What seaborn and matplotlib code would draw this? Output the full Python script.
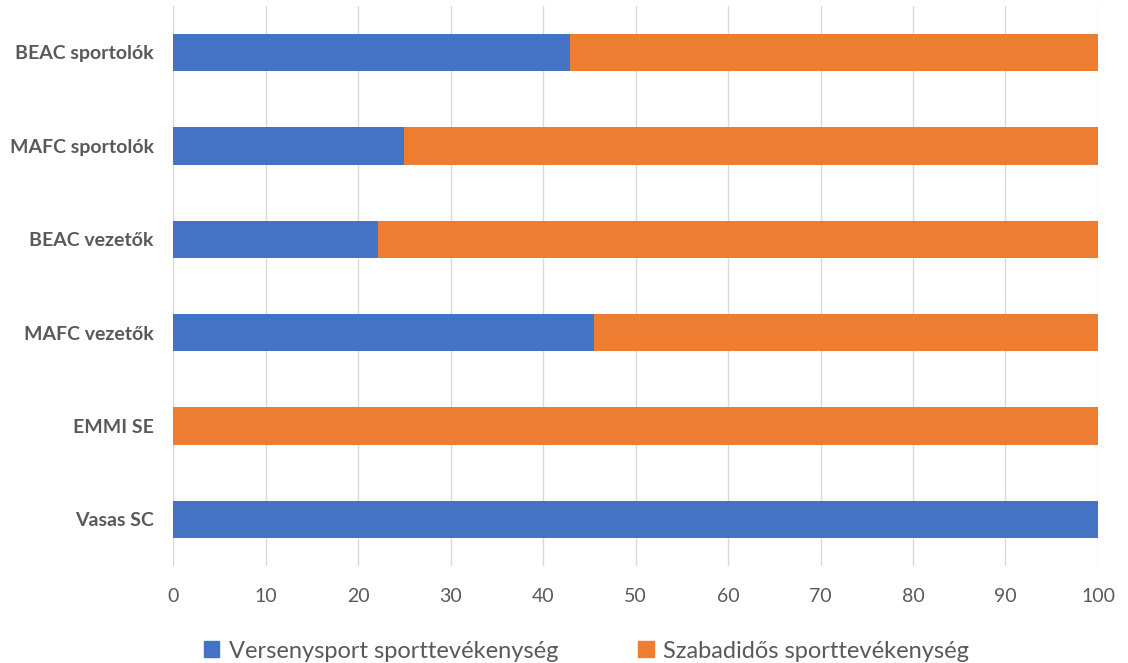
import pandas as pd
import numpy as np
import matplotlib.pyplot as plt
import seaborn as sns
from matplotlib.patches import Patch

categories = ['BEAC sportolók', 'MAFC sportolók', 'BEAC vezetők', 'MAFC vezetők', 'EMMI SE', 'Vasas SC']
versenysport = [42.9, 25.0, 22.2, 45.5, 0.0, 100.0]
szabadidos = [57.1, 75.0, 77.8, 54.5, 100.0, 0.0]

blue = '#4472c4'
orange = '#ed7d31'
grey = '#595959'

df = pd.DataFrame({'cat': categories, 'verseny': versenysport, 'szabad': szabadidos})
df['total'] = df['verseny'] + df['szabad']

sns.set_style('white')
plt.rcParams['font.family'] = ['Lato', 'DejaVu Sans']

fig = plt.figure(figsize=(11.28, 6.63), dpi=100)
ax = fig.add_axes([0.1534, 0.1463, 0.82, 0.845])

# stacked: full bar in orange, blue part on top
sns.barplot(data=df, y='cat', x='total', color=orange, orient='h', width=0.4,
            saturation=1, linewidth=0, ax=ax)
sns.barplot(data=df, y='cat', x='verseny', color=blue, orient='h', width=0.4,
            saturation=1, linewidth=0, ax=ax)

ax.set_xlim(0, 100)
ax.set_xticks(np.arange(0, 101, 10))
ax.set_ylim(5.5, -0.5)
ax.grid(axis='x', color='#d9d9d9', linewidth=1)
ax.set_axisbelow(True)
for s in ax.spines.values():
    s.set_visible(False)
ax.set_xlabel('')
ax.set_ylabel('')
ax.tick_params(axis='x', length=0, pad=16, labelsize=14, labelcolor=grey)
ax.tick_params(axis='y', length=0, pad=14, labelsize=14, labelcolor=grey)
for lab in ax.get_yticklabels():
    lab.set_fontweight('bold')

handles = [Patch(color=blue, label='Versenysport sporttevékenység'),
           Patch(color=orange, label='Szabadidős sporttevékenység')]
fig.legend(handles=handles, loc='lower center', bbox_to_anchor=(0.52, -0.03), ncol=2,
           frameon=False, fontsize=17, handlelength=0.65, handleheight=0.65,
           handletextpad=0.4, columnspacing=3.4, labelcolor=grey)

plt.savefig('out.png', dpi=100)
